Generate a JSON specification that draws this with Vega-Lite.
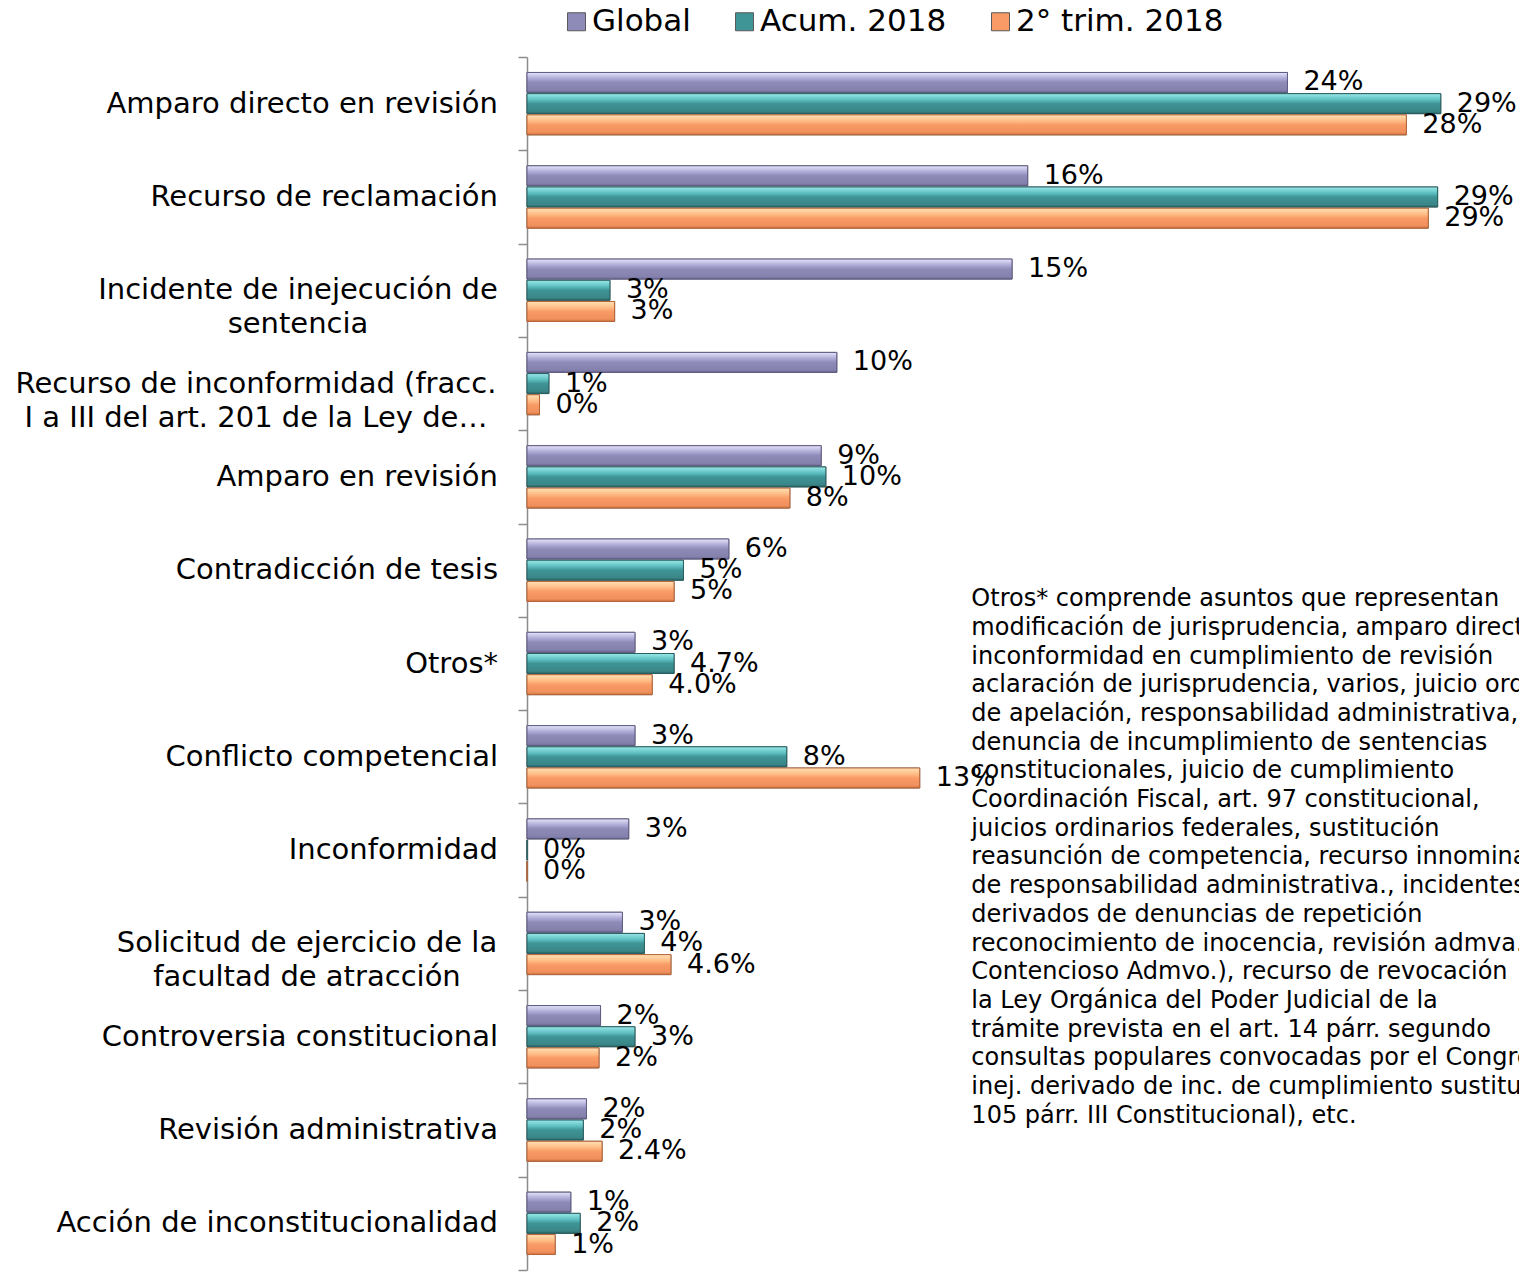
{
  "$schema": "https://vega.github.io/schema/vega-lite/v6.json",
  "width": 992,
  "height": 1213,
  "autosize": {"type": "none"},
  "padding": {"left": 527, "top": 57, "right": 0, "bottom": 3},
  "background": "white",
  "config": {"view": {"stroke": null}, "font": "DejaVu Sans"},
  "datasets": {
    "bars": [
      {"cat": "Amparo directo en revisión", "series": "Global", "value": 24.3, "label": "24%"},
      {"cat": "Amparo directo en revisión", "series": "Acum. 2018", "value": 29.2, "label": "29%"},
      {"cat": "Amparo directo en revisión", "series": "2° trim. 2018", "value": 28.1, "label": "28%"},
      {"cat": "Recurso de reclamación", "series": "Global", "value": 16.0, "label": "16%"},
      {"cat": "Recurso de reclamación", "series": "Acum. 2018", "value": 29.1, "label": "29%"},
      {"cat": "Recurso de reclamación", "series": "2° trim. 2018", "value": 28.8, "label": "29%"},
      {"cat": "Incidente de inejecución de sentencia", "series": "Global", "value": 15.5, "label": "15%"},
      {"cat": "Incidente de inejecución de sentencia", "series": "Acum. 2018", "value": 2.65, "label": "3%"},
      {"cat": "Incidente de inejecución de sentencia", "series": "2° trim. 2018", "value": 2.8, "label": "3%"},
      {"cat": "Recurso de inconformidad (fracc. I a III del art. 201 de la Ley de…", "series": "Global", "value": 9.9, "label": "10%"},
      {"cat": "Recurso de inconformidad (fracc. I a III del art. 201 de la Ley de…", "series": "Acum. 2018", "value": 0.7, "label": "1%"},
      {"cat": "Recurso de inconformidad (fracc. I a III del art. 201 de la Ley de…", "series": "2° trim. 2018", "value": 0.4, "label": "0%"},
      {"cat": "Amparo en revisión", "series": "Global", "value": 9.4, "label": "9%"},
      {"cat": "Amparo en revisión", "series": "Acum. 2018", "value": 9.55, "label": "10%"},
      {"cat": "Amparo en revisión", "series": "2° trim. 2018", "value": 8.4, "label": "8%"},
      {"cat": "Contradicción de tesis", "series": "Global", "value": 6.45, "label": "6%"},
      {"cat": "Contradicción de tesis", "series": "Acum. 2018", "value": 5.0, "label": "5%"},
      {"cat": "Contradicción de tesis", "series": "2° trim. 2018", "value": 4.7, "label": "5%"},
      {"cat": "Otros*", "series": "Global", "value": 3.45, "label": "3%"},
      {"cat": "Otros*", "series": "Acum. 2018", "value": 4.7, "label": "4.7%"},
      {"cat": "Otros*", "series": "2° trim. 2018", "value": 4.0, "label": "4.0%"},
      {"cat": "Conflicto competencial", "series": "Global", "value": 3.45, "label": "3%"},
      {"cat": "Conflicto competencial", "series": "Acum. 2018", "value": 8.3, "label": "8%"},
      {"cat": "Conflicto competencial", "series": "2° trim. 2018", "value": 12.55, "label": "13%"},
      {"cat": "Inconformidad", "series": "Global", "value": 3.25, "label": "3%"},
      {"cat": "Inconformidad", "series": "Acum. 2018", "value": 0, "label": "0%"},
      {"cat": "Inconformidad", "series": "2° trim. 2018", "value": 0, "label": "0%"},
      {"cat": "Solicitud de ejercicio de la facultad de atracción", "series": "Global", "value": 3.05, "label": "3%"},
      {"cat": "Solicitud de ejercicio de la facultad de atracción", "series": "Acum. 2018", "value": 3.75, "label": "4%"},
      {"cat": "Solicitud de ejercicio de la facultad de atracción", "series": "2° trim. 2018", "value": 4.6, "label": "4.6%"},
      {"cat": "Controversia constitucional", "series": "Global", "value": 2.35, "label": "2%"},
      {"cat": "Controversia constitucional", "series": "Acum. 2018", "value": 3.45, "label": "3%"},
      {"cat": "Controversia constitucional", "series": "2° trim. 2018", "value": 2.3, "label": "2%"},
      {"cat": "Revisión administrativa", "series": "Global", "value": 1.9, "label": "2%"},
      {"cat": "Revisión administrativa", "series": "Acum. 2018", "value": 1.8, "label": "2%"},
      {"cat": "Revisión administrativa", "series": "2° trim. 2018", "value": 2.4, "label": "2.4%"},
      {"cat": "Acción de inconstitucionalidad", "series": "Global", "value": 1.4, "label": "1%"},
      {"cat": "Acción de inconstitucionalidad", "series": "Acum. 2018", "value": 1.7, "label": "2%"},
      {"cat": "Acción de inconstitucionalidad", "series": "2° trim. 2018", "value": 0.9, "label": "1%"}
    ],
    "cats": [
      {"cat": "Amparo directo en revisión", "name": "Amparo directo en revisión", "wrap": "no"},
      {"cat": "Recurso de reclamación", "name": "Recurso de reclamación", "wrap": "no"},
      {"cat": "Incidente de inejecución de sentencia", "name": "Incidente de inejecución de\nsentencia", "wrap": "a"},
      {"cat": "Recurso de inconformidad (fracc. I a III del art. 201 de la Ley de…", "name": "Recurso de inconformidad (fracc.\nI a III del art. 201 de la Ley de…", "wrap": "b"},
      {"cat": "Amparo en revisión", "name": "Amparo en revisión", "wrap": "no"},
      {"cat": "Contradicción de tesis", "name": "Contradicción de tesis", "wrap": "no"},
      {"cat": "Otros*", "name": "Otros*", "wrap": "no"},
      {"cat": "Conflicto competencial", "name": "Conflicto competencial", "wrap": "no"},
      {"cat": "Inconformidad", "name": "Inconformidad", "wrap": "no"},
      {"cat": "Solicitud de ejercicio de la facultad de atracción", "name": "Solicitud de ejercicio de la\nfacultad de atracción", "wrap": "c"},
      {"cat": "Controversia constitucional", "name": "Controversia constitucional", "wrap": "no"},
      {"cat": "Revisión administrativa", "name": "Revisión administrativa", "wrap": "no"},
      {"cat": "Acción de inconstitucionalidad", "name": "Acción de inconstitucionalidad", "wrap": "no"}
    ],
    "note": [
      {"cat": "Contradicción de tesis", "value": 14.2, "note": "Otros* comprende asuntos que representan\nmodificación de jurisprudencia, amparo directo\ninconformidad en cumplimiento de revisión\naclaración de jurisprudencia, varios, juicio ordinario\nde apelación, responsabilidad administrativa,\ndenuncia de incumplimiento de sentencias\nconstitucionales, juicio de cumplimiento\nCoordinación Fiscal, art. 97 constitucional,\njuicios ordinarios federales, sustitución\nreasunción de competencia, recurso innominado\nde responsabilidad administrativa., incidentes\nderivados de denuncias de repetición\nreconocimiento de inocencia, revisión admva.\nContencioso Admvo.), recurso de revocación\nla Ley Orgánica del Poder Judicial de la\ntrámite prevista en el art. 14 párr. segundo\nconsultas populares convocadas por el Congreso\ninej. derivado de inc. de cumplimiento sustituto\n105 párr. III Constitucional), etc."}
    ]
  },
  "encoding": {
    "y": {
      "field": "cat",
      "type": "nominal",
      "sort": ["Amparo directo en revisión", "Recurso de reclamación", "Incidente de inejecución de sentencia", "Recurso de inconformidad (fracc. I a III del art. 201 de la Ley de…", "Amparo en revisión", "Contradicción de tesis", "Otros*", "Conflicto competencial", "Inconformidad", "Solicitud de ejercicio de la facultad de atracción", "Controversia constitucional", "Revisión administrativa", "Acción de inconstitucionalidad"],
      "scale": {"paddingInner": 0, "paddingOuter": 0},
      "axis": {
        "title": null,
        "grid": false,
        "labels": false,
        "domainColor": "#8c8c8c",
        "domainWidth": 1.5,
        "tickColor": "#8c8c8c",
        "tickWidth": 1.5,
        "tickSize": 9,
        "tickBand": "extent"
      }
    }
  },
  "layer": [
    {
      "data": {"name": "bars"},
      "mark": {"type": "bar", "stroke": "#666666", "strokeWidth": 1},
      "encoding": {
        "x": {"field": "value", "type": "quantitative", "scale": {"domain": [0, 31.7], "nice": false, "zero": true}, "axis": null},
        "yOffset": {"field": "series", "type": "nominal", "scale": {"domain": ["Global", "Acum. 2018", "2° trim. 2018"], "paddingInner": 0.057, "paddingOuter": 0.73}},
        "color": {
          "field": "series",
          "type": "nominal",
          "scale": {"domain": ["Global", "Acum. 2018", "2° trim. 2018"], "range": ["#8e8bb8", "#3f9496", "#f99b66"]},
          "legend": {
            "orient": "none",
            "legendX": 34,
            "legendY": -51,
            "direction": "horizontal",
            "title": null,
            "padding": 0,
            "labelFont": "DejaVu Sans",
            "labelFontSize": 31,
            "labelColor": "black",
            "labelLimit": 600,
            "labelOffset": 0,
            "columnPadding": 38,
            "symbolType": "square",
            "symbolSize": 324,
            "symbolStrokeColor": "#5a5a5a",
            "symbolStrokeWidth": 1
          }
        }
      }
    },
    {
      "data": {"name": "bars"},
      "transform": [{"filter": "datum.series === 'Global'"}],
      "mark": {"type": "bar", "stroke": "#5f5c85", "strokeWidth": 1,
        "fill": {"gradient": "linear", "x1": 0, "y1": 0, "x2": 0, "y2": 1, "stops": [
          {"offset": 0, "color": "#e6e4fa"}, {"offset": 0.3, "color": "#aeabd6"}, {"offset": 0.5, "color": "#8e8bb8"}, {"offset": 0.88, "color": "#8481ad"}, {"offset": 1, "color": "#6b6890"}]}},
      "encoding": {
        "x": {"field": "value", "type": "quantitative"},
        "yOffset": {"field": "series", "type": "nominal"}
      }
    },
    {
      "data": {"name": "bars"},
      "transform": [{"filter": "datum.series === 'Acum. 2018'"}],
      "mark": {"type": "bar", "stroke": "#275f61", "strokeWidth": 1,
        "fill": {"gradient": "linear", "x1": 0, "y1": 0, "x2": 0, "y2": 1, "stops": [
          {"offset": 0, "color": "#9ae8e8"}, {"offset": 0.3, "color": "#5fc0c2"}, {"offset": 0.5, "color": "#3f9496"}, {"offset": 0.88, "color": "#3a8688"}, {"offset": 1, "color": "#2b6466"}]}},
      "encoding": {
        "x": {"field": "value", "type": "quantitative"},
        "yOffset": {"field": "series", "type": "nominal"}
      }
    },
    {
      "data": {"name": "bars"},
      "transform": [{"filter": "datum.series === '2° trim. 2018'"}],
      "mark": {"type": "bar", "stroke": "#b96536", "strokeWidth": 1,
        "fill": {"gradient": "linear", "x1": 0, "y1": 0, "x2": 0, "y2": 1, "stops": [
          {"offset": 0, "color": "#ffe0b5"}, {"offset": 0.3, "color": "#ffbd86"}, {"offset": 0.5, "color": "#f99b66"}, {"offset": 0.88, "color": "#f0905c"}, {"offset": 1, "color": "#c86f40"}]}},
      "encoding": {
        "x": {"field": "value", "type": "quantitative"},
        "yOffset": {"field": "series", "type": "nominal"}
      }
    },
    {
      "data": {"name": "bars"},
      "mark": {"type": "text", "align": "left", "baseline": "middle", "dx": 16, "font": "DejaVu Sans", "fontSize": 27, "color": "black"},
      "encoding": {
        "x": {"field": "value", "type": "quantitative"},
        "yOffset": {"field": "series", "type": "nominal"},
        "text": {"field": "label", "type": "nominal"}
      }
    },
    {
      "data": {"name": "cats"},
      "transform": [{"filter": "datum.wrap === 'no'"}],
      "mark": {"type": "text", "align": "right", "baseline": "middle", "dx": -29, "font": "DejaVu Sans", "fontSize": 29, "color": "black"},
      "encoding": {
        "x": {"datum": 0, "type": "quantitative"},
        "text": {"field": "name", "type": "nominal"}
      }
    },
    {
      "data": {"name": "cats"},
      "transform": [{"filter": "datum.wrap === 'a'"}],
      "mark": {"type": "text", "align": "center", "baseline": "middle", "dx": -229, "lineBreak": "\n", "lineHeight": 34, "font": "DejaVu Sans", "fontSize": 29, "color": "black"},
      "encoding": {
        "x": {"datum": 0, "type": "quantitative"},
        "text": {"field": "name", "type": "nominal"}
      }
    },
    {
      "data": {"name": "cats"},
      "transform": [{"filter": "datum.wrap === 'b'"}],
      "mark": {"type": "text", "align": "center", "baseline": "middle", "dx": -271, "lineBreak": "\n", "lineHeight": 34, "font": "DejaVu Sans", "fontSize": 29, "color": "black"},
      "encoding": {
        "x": {"datum": 0, "type": "quantitative"},
        "text": {"field": "name", "type": "nominal"}
      }
    },
    {
      "data": {"name": "cats"},
      "transform": [{"filter": "datum.wrap === 'c'"}],
      "mark": {"type": "text", "align": "center", "baseline": "middle", "dx": -220, "lineBreak": "\n", "lineHeight": 34, "font": "DejaVu Sans", "fontSize": 29, "color": "black"},
      "encoding": {
        "x": {"datum": 0, "type": "quantitative"},
        "text": {"field": "name", "type": "nominal"}
      }
    },
    {
      "data": {"name": "note"},
      "mark": {"type": "text", "align": "left", "baseline": "top", "dy": 17, "lineBreak": "\n", "lineHeight": 28.7, "font": "DejaVu Sans", "fontSize": 24, "color": "black"},
      "encoding": {
        "x": {"field": "value", "type": "quantitative"},
        "text": {"field": "note", "type": "nominal"}
      }
    }
  ]
}
